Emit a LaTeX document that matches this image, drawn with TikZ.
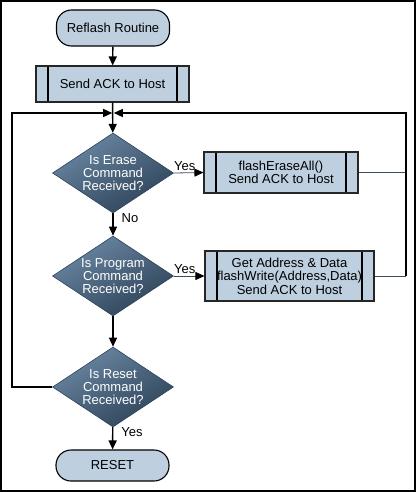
\documentclass[tikz,border=0pt]{standalone}
\usepackage{fontspec}
\setmainfont{Liberation Sans}
\usetikzlibrary{arrows.meta,shapes.geometric}

\definecolor{boxfill}{HTML}{BED0E0}
\definecolor{decltop}{HTML}{6B87A3}
\definecolor{decldark}{HTML}{2D4358}
\definecolor{thinline}{HTML}{3E4E5E}
\newcommand\flowfont{\fontsize{13}{13.4}\selectfont}

\tikzset{
    term/.style={rectangle, rounded corners=15pt, draw=black, line width=1.1pt, fill=boxfill, minimum width=113pt, minimum height=#1, font=\flowfont},
    subr/.style={rectangle, draw=black!85, line width=1.1pt, fill=boxfill, align=center, font=\flowfont,
        path picture={\draw[black, line width=1.6pt]
            ([xshift=12pt]path picture bounding box.north west) -- ([xshift=12pt]path picture bounding box.south west)
            ([xshift=-12pt]path picture bounding box.north east) -- ([xshift=-12pt]path picture bounding box.south east);}},
    decision/.style={diamond, draw=decldark, line width=0.6pt, minimum width=121pt, minimum height=80pt, inner sep=0pt,
        top color=decltop, bottom color=decldark, shading angle=30,
        label={[text=white, align=center, font=\flowfont]center:{#1}}},
    flow/.style={draw=black, line width=1.4pt, -{Triangle[length=9pt, width=8pt]}},
    thinflow/.style={draw=thinline, line width=0.8pt},
    lbl/.style={font=\flowfont, inner sep=0pt}
}

\begin{document}
\begin{tikzpicture}[x=1pt, y=-1pt]
    \useasboundingbox (0,0) rectangle (416,492);
    \draw[line width=2pt] (1,1) rectangle (415,491);

    \node[term=36pt] (rr) at (113,28) {Reflash Routine};
    \node[subr, minimum width=153pt, minimum height=36pt] (ack) at (112.5,84) {Send ACK to Host};
    \node[decision={Is Erase\\Command\\Received?}] (q_er) at (113,173) {};
    \node[subr, minimum width=154pt, minimum height=41pt] (b_er) at (281,172.5) {flashEraseAll()\\Send ACK to Host};
    \node[decision={Is Program\\Command\\Received?}] (q_pr) at (113,276) {};
    \node[subr, minimum width=169pt, minimum height=50pt] (b_pr) at (289.5,276) {Get Address \& Data\\flashWrite(Address,Data)\\Send ACK to Host};
    \node[decision={Is Reset\\Command\\Received?}] (q_rs) at (113,387) {};
    \node[term=31pt] (rs) at (112.5,465.5) {RESET};

    \coordinate (jn) at (113,113);
    \coordinate (rail) at (406,113);
    \coordinate (lrail) at (12,113);

    \draw[flow] (rr) -- (ack);
    \draw[flow] (ack) -- (q_er);
    \draw[flow] (q_er) -- node[lbl, pos=0.22, right=8pt] {No} (q_pr);
    \draw[flow] (q_pr) -- (q_rs);
    \draw[flow] (q_rs) -- node[lbl, pos=0.22, right=8pt] {Yes} (rs);

    \draw[thinflow, -{Triangle[length=9pt, width=8pt, color=black]}] (q_er.east) -- node[lbl, pos=0, anchor=south west, yshift=2pt] {Yes} (b_er.west);
    \draw[thinflow, -{Triangle[length=9pt, width=8pt, color=black]}] (q_pr.east) -- node[lbl, pos=0, anchor=south west, yshift=2pt] {Yes} (b_pr.west);
    \draw[thinflow] (b_er.east) -- (b_er.east -| rail);
    \draw[thinflow] (b_pr.east) -- (b_pr.east -| rail);

    \draw[flow, shorten >=0.8pt] (b_pr.east -| rail) -- (rail) -- (jn);
    \draw[flow, shorten >=0.8pt] (q_rs.west) -- (q_rs.west -| lrail) -- (lrail) -- (jn);
\end{tikzpicture}
\end{document}
